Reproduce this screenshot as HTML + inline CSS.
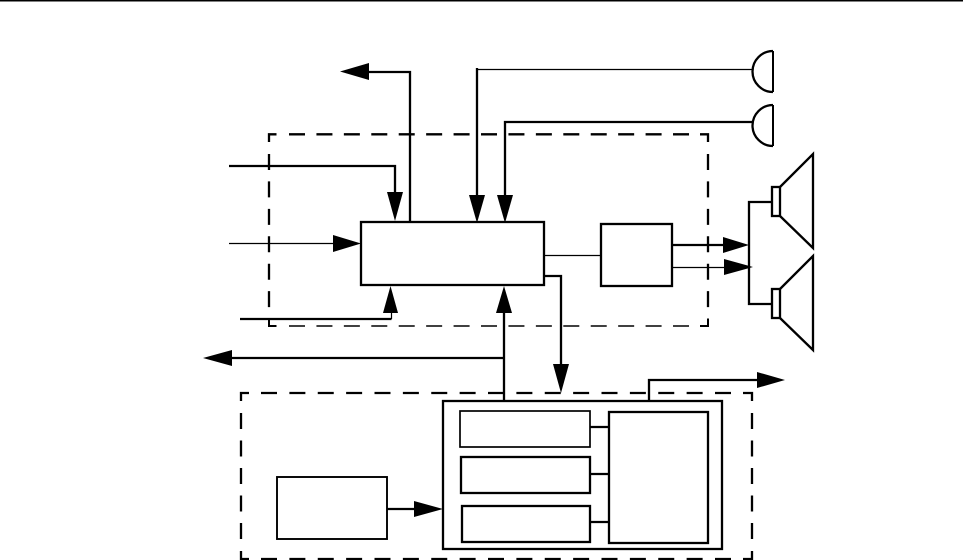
<!DOCTYPE html>
<html><head><meta charset="utf-8"><style>html,body{margin:0;padding:0;background:#fff}svg{display:block}</style></head>
<body>
<svg width="963" height="560" viewBox="0 0 963 560" xmlns="http://www.w3.org/2000/svg">
<rect x="0" y="0" width="963" height="1.5" fill="#000"/>
<g fill="none" stroke="#000" stroke-width="2.3">
<!-- dashed box 1 -->
<path d="M276.500 134.300H269V142"/>
<path d="M289 134.300H690" stroke-dasharray="16 11.430"/>
<path d="M700 134.300H708V142"/>
<path d="M269 154V310" stroke-dasharray="16 11.430"/>
<path d="M708 154V310" stroke-dasharray="16 11.430"/>
<path d="M269 318.500V326H276.500" stroke-width="2"/>
<path d="M700 326H708V318.500" stroke-width="2"/>
<path d="M289 326H690" stroke-dasharray="16 11.430" stroke-width="1.500"/>
<!-- dashed box 2 -->
<path d="M249 393H241V401"/>
<path d="M261 393H732" stroke-dasharray="16 12.375"/>
<path d="M743 393H752V401"/>
<path d="M241 413V540" stroke-dasharray="16 11.500"/>
<path d="M752 413V540" stroke-dasharray="16 11.500"/>
<path d="M241 551V559H249"/>
<path d="M261 559H732" stroke-dasharray="16 12.375"/>
<path d="M743 559H752V551"/>
<!-- boxes -->
<rect x="361" y="222" width="183" height="63"/>
<rect x="601" y="224" width="71" height="62"/>
<rect x="443" y="401" width="279" height="148"/>
<rect x="460" y="411" width="130" height="36" stroke-width="1.700"/>
<rect x="461" y="457" width="129" height="36"/>
<rect x="462" y="506" width="128" height="36"/>
<rect x="609" y="412" width="99" height="131"/>
<rect x="277" y="477" width="110" height="62" stroke-width="1.900"/>
<!-- connectors -->
<path d="M410 222V72H368"/>
<path d="M477 68V196"/>
<path d="M477 69.500H753" stroke-width="1.200"/>
<path d="M753 122H505V196"/>
<path d="M229 166H395V193"/>
<path d="M229 243.500H334" stroke-width="1.200"/>
<path d="M240 319H391.500"/>
<path d="M391.500 319V312" stroke-width="1.200"/>
<path d="M504 401V312"/>
<path d="M504 358H231"/>
<path d="M544 255.500H601" stroke-width="1.200"/>
<path d="M544 276H561V365"/>
<path d="M672 245H724"/>
<path d="M672 267.500H725" stroke-width="1.200"/>
<path d="M772 202H749V304H772"/>
<path d="M590 427H609M590 474H609M590 522H609"/>
<path d="M387 509H415"/>
<path d="M649 401V380H758"/>
<!-- speakers -->
<rect x="772" y="187" width="8" height="29"/>
<path d="M780 187L813 154V248L780 216"/>
<rect x="772" y="289" width="8" height="29"/>
<path d="M780 289L813 256V350L780 318"/>
<!-- mics -->
<path d="M773 51V92" stroke-width="2"/>
<path d="M773 51A20.500 20.500 0 0 0 773 92"/>
<path d="M773 105V146" stroke-width="2"/>
<path d="M773 105A20.500 20.500 0 0 0 773 146"/>
</g>
<g fill="#000">
<polygon points="340,71.500 369,63 369,80"/>
<polygon points="469,195 485,195 477,223"/>
<polygon points="497,195 513,195 505,223"/>
<polygon points="387,192 403,192 395,221"/>
<polygon points="333,235 333,252 361,243.500"/>
<polygon points="383,313 398,313 390.500,286"/>
<polygon points="496,313 512,313 504,286"/>
<polygon points="203,358 232,350 232,366"/>
<polygon points="553,364 569,364 561,393"/>
<polygon points="723,237 723,253 749,245"/>
<polygon points="724,259 724,275 753,267"/>
<polygon points="414,501 414,517 443,509"/>
<polygon points="757,372 757,388 785,380"/>
</g>
</svg>
</body></html>
